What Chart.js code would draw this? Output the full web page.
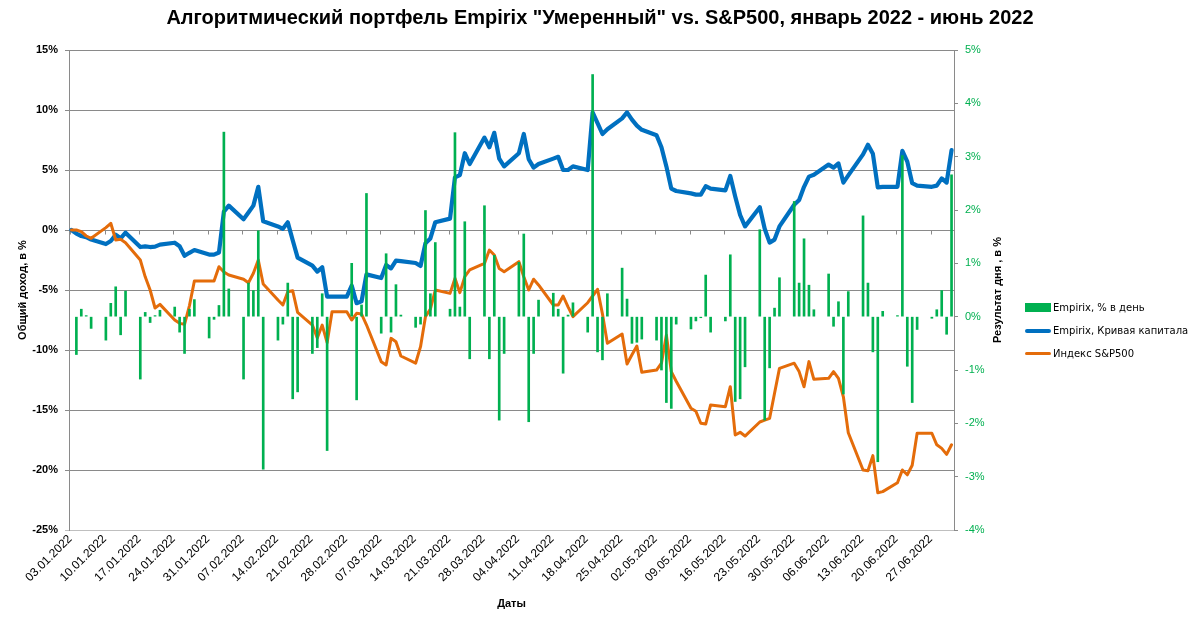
<!DOCTYPE html>
<html>
<head>
<meta charset="utf-8">
<script src="https://cdn.jsdelivr.net/npm/chart.js@4.4.1/dist/chart.umd.min.js"></script>
<style>
  html, body { margin: 0; padding: 0; background: #fff; }
  #wrap { position: relative; width: 1200px; height: 623px; }
  #legend { position: absolute; left: 1025px; top: 296px; font: 10px "DejaVu Sans", Verdana, sans-serif; color: #000; }
  #legend .row { height: 23px; display: flex; align-items: center; white-space: nowrap; }
  #legend .sw { display: inline-block; width: 26px; margin-right: 2px; }
</style>
</head>
<body>
<div id="wrap">
  <canvas id="c" width="1200" height="623" style="width:1200px;height:623px"></canvas>
  <div id="legend"></div>
</div>
<script>
// ----- data -----
const dates = [
  "03.01","04.01","05.01","06.01","07.01",
  "10.01","11.01","12.01","13.01","14.01",
  "17.01","18.01","19.01","20.01","21.01",
  "24.01","25.01","26.01","27.01","28.01",
  "31.01","01.02","02.02","03.02","04.02",
  "07.02","08.02","09.02","10.02","11.02",
  "14.02","15.02","16.02","17.02","18.02",
  "21.02","22.02","23.02","24.02","25.02",
  "28.02","01.03","02.03","03.03","04.03",
  "07.03","08.03","09.03","10.03","11.03",
  "14.03","15.03","16.03","17.03","18.03",
  "21.03","22.03","23.03","24.03","25.03",
  "28.03","29.03","30.03","31.03","01.04",
  "04.04","05.04","06.04","07.04","08.04",
  "11.04","12.04","13.04","14.04","15.04",
  "18.04","19.04","20.04","21.04","22.04",
  "25.04","26.04","27.04","28.04","29.04",
  "02.05","03.05","04.05","05.05","06.05",
  "09.05","10.05","11.05","12.05","13.05",
  "16.05","17.05","18.05","19.05","20.05",
  "23.05","24.05","25.05","26.05","27.05",
  "30.05","31.05","01.06","02.06","03.06",
  "06.06","07.06","08.06","09.06","10.06",
  "13.06","14.06","15.06","16.06","17.06",
  "20.06","21.06","22.06","23.06","24.06",
  "27.06","28.06","29.06","30.06","01.07"
];

// Empirix, % в день (right axis)
const dailyPct = [
  null, -0.71, 0.14, 0.02, -0.22,
  -0.44, 0.25, 0.56, -0.34, 0.48,
  -1.17, 0.08, -0.11, 0.02, 0.12,
  0.18, -0.29, -0.69, 0.14, 0.32,
  -0.40, -0.05, 0.21, 3.46, 0.52,
  -1.17, 0.63, 0.49, 1.61, -2.86,
  -0.44, -0.14, 0.63, -1.54, -1.41,
  -0.69, -0.58, 0.43, -2.51, null,
  null, 1.00, -1.56, 0.22, 2.31,
  -0.31, 1.18, -0.29, 0.60, 0.03,
  -0.20, -0.14, 1.99, 0.43, 1.39,
  0.14, 3.45, 0.18, 1.78, -0.79,
  2.08, -0.79, 1.15, -1.94, -0.69,
  1.02, 1.55, -1.97, -0.69, 0.31,
  0.44, 0.14, -1.06, 0.03, 0.26,
  -0.29, 4.54, -0.66, -0.81, 0.43,
  0.91, 0.33, -0.50, -0.48, -0.42,
  -0.44, -1.00, -1.61, -1.72, -0.14,
  -0.23, -0.08, -0.02, 0.78, -0.29,
  -0.08, 1.16, -1.59, -1.54, -0.94,
  1.63, -1.94, -0.96, 0.16, 0.73,
  2.16, 0.63, 1.46, 0.59, 0.13,
  0.80, -0.18, 0.28, -1.45, 0.47,
  1.89, 0.63, -0.66, -2.72, 0.10,
  0.02, 3.02, -0.93, -1.61, -0.24,
  -0.03, 0.13, 0.49, -0.33, 2.66
];

// Empirix, Кривая капитала (left axis, %)
const equity = [
  0, -0.3, -0.5, -0.6, -0.8,
  -1.17, -0.92, -0.4, -0.69, -0.22,
  -1.42, -1.36, -1.42, -1.39, -1.22,
  -1.06, -1.35, -2.15, -1.9, -1.67,
  -2.05, -2.05, -1.88, 1.53, 2.03,
  0.89, 1.45, 2.03, 3.6, 0.72,
  0.3, 0.1, 0.64, -0.85, -2.3,
  -2.97, -3.47, -3.1, -5.56, -5.56,
  -5.56, -4.64, -6.1, -5.95, -3.7,
  -4.0, -2.92, -3.2, -2.55, -2.6,
  -2.75, -3.0, -1.1, -0.7, 0.65,
  0.95, 4.39, 4.58, 6.4, 5.5,
  7.7, 6.9, 8.1, 5.95, 5.3,
  6.4, 8.0, 5.9, 5.2, 5.5,
  5.95, 6.1, 5.0, 5.0, 5.3,
  5.0, 9.8, 8.9, 8.0, 8.4,
  9.3, 9.8, 9.2, 8.7, 8.35,
  7.9, 6.9, 5.3, 3.45, 3.25,
  3.05, 2.95, 2.95, 3.65, 3.45,
  3.3, 4.5, 2.8, 1.25, 0.3,
  1.9, 0.1, -1.05, -0.8, 0.3,
  2.1, 2.5, 3.6, 4.45, 4.6,
  5.45, 5.2, 5.55, 3.95, 4.55,
  6.3, 7.1, 6.35, 3.55, 3.6,
  3.6, 6.6, 5.7, 3.9, 3.7,
  3.6, 3.7, 4.3, 3.95, 6.65
];

// Индекс S&P500 (left axis, %)
const spx = [
  0, 0, -0.14, -0.5, -0.69,
  0.2, 0.56, -0.83, -0.78, -1.06,
  -2.5, -3.9, -5.0, -6.5, -6.2,
  -7.5, -7.78, -7.86, -6.3, -4.25,
  -4.25, -4.25, -3.06, -3.5, -3.75,
  -4.1, -4.4, -3.6, -2.5, -4.5,
  -5.83, -6.25, -5.14, -5.06, -6.86,
  -7.92, -9.0, -7.92, -9.39, -6.81,
  -6.81, -7.5, -6.94, -7.0, -7.9,
  -10.97, -11.25, -9.03, -9.31, -10.5,
  -11.1, -9.72, -7.22, -6.6, -5.0,
  -5.28, -4.03, -5.22, -3.89, -3.33,
  -2.78, -1.67, -2.08, -3.2, -3.47,
  -2.64, -3.9, -5.0, -4.1, -4.58,
  -6.25, -6.25, -5.5, -6.4, -7.22,
  -6.06, -5.5, -4.94, -7.0, -9.44,
  -8.67, -11.17, -10.4, -9.67, -11.85,
  -11.67, -11.1, -8.75, -11.8, -12.6,
  -14.86, -15.1, -16.1, -16.17, -14.58,
  -14.72, -13.06, -17.08, -16.86, -17.17,
  -16.0, -15.85, -15.69, -13.6, -11.53,
  -11.1, -11.8, -13.06, -10.97, -12.44,
  -12.36, -11.8, -12.36, -13.9, -16.9,
  -20.0, -20.06, -18.8, -21.9, -21.8,
  -21.06, -20.0, -20.4, -19.6, -16.94,
  -16.94, -17.9, -18.2, -18.7, -17.9
];

const tickLabels = [
  "03.01.2022","10.01.2022","17.01.2022","24.01.2022","31.01.2022","07.02.2022",
  "14.02.2022","21.02.2022","28.02.2022","07.03.2022","14.03.2022","21.03.2022",
  "28.03.2022","04.04.2022","11.04.2022","18.04.2022","25.04.2022","02.05.2022",
  "09.05.2022","16.05.2022","23.05.2022","30.05.2022","06.06.2022","13.06.2022",
  "20.06.2022","27.06.2022"
];

const C_BAR = "#00B050", C_EQ = "#0070C0", C_SPX = "#E46C0A", C_GRID = "#8a8a8a";
const FONT = "'Liberation Sans', Arial, sans-serif";

// ----- helpers -----
const day0 = Date.UTC(2022, 0, 3);
const dayIdx = (s) => { const [d, m] = s.split(".").map(Number); return (Date.UTC(2022, m - 1, d) - day0) / 86400000; };
const xs = dates.map(dayIdx);
const pts = (arr) => arr.map((v, i) => ({ x: xs[i], y: v })).filter(p => p.y != null);

// tick marks on the 0% line + right axis title
const extras = {
  id: "extras",
  beforeDatasetsDraw(chart) {
    const { ctx, scales: { x, y } } = chart;
    const y0 = Math.round(y.getPixelForValue(0)) + 0.5;
    ctx.save();
    ctx.strokeStyle = C_GRID; ctx.lineWidth = 1;
    x.ticks.forEach(t => {
      const px = Math.round(x.getPixelForValue(t.value)) + 0.5;
      ctx.beginPath(); ctx.moveTo(px, y0); ctx.lineTo(px, y0 + 4); ctx.stroke();
    });
    ctx.restore();
  },
  afterDraw(chart) {
    const { ctx } = chart;
    ctx.save();
    ctx.translate(998, 290);
    ctx.rotate(-Math.PI / 2);
    ctx.font = "bold 11px " + FONT;
    ctx.fillStyle = "#000"; ctx.textAlign = "center"; ctx.textBaseline = "middle";
    ctx.fillText("Результат дня , в %", 0, 0);
    ctx.restore();
  }
};

new Chart(document.getElementById("c"), {
  type: "line",
  data: {
    datasets: [
      { type: "bar", label: "Empirix, % в день", data: pts(dailyPct), yAxisID: "y2",
        backgroundColor: C_BAR, borderWidth: 0, barThickness: 2, order: 0 },
      { label: "Empirix, Кривая капитала", data: pts(equity), yAxisID: "y",
        borderColor: C_EQ, backgroundColor: C_EQ, borderWidth: 4.2, pointRadius: 0, tension: 0,
        borderJoinStyle: "round", borderCapStyle: "round", order: 2 },
      { label: "Индекс S&P500", data: pts(spx), yAxisID: "y",
        borderColor: C_SPX, backgroundColor: C_SPX, borderWidth: 3, pointRadius: 0, tension: 0,
        borderJoinStyle: "round", borderCapStyle: "round", order: 1 }
    ]
  },
  options: {
    responsive: false, animation: false, devicePixelRatio: 1,
    layout: { padding: { left: 0, right: 0, top: 6, bottom: 0 } },
    plugins: {
      legend: { display: false }, tooltip: { enabled: false },
      title: { display: true, text: 'Алгоритмический портфель Empirix "Умеренный" vs. S&P500, январь 2022 - июнь 2022',
        color: "#000", font: { family: FONT, size: 20, weight: "bold" }, padding: { top: 0, bottom: 20 } }
    },
    scales: {
      x: {
        type: "linear", min: -0.5, max: 179.5, offset: false,
        afterBuildTicks: (s) => { s.ticks = tickLabels.map((_, k) => ({ value: k * 7 - 0.25 })); },
        afterFit: (s) => { s.height = 93; },
        ticks: { autoSkip: false, minRotation: 45, maxRotation: 45, padding: 2, color: "#000",
          font: { family: FONT, size: 12 }, callback: (v, i) => tickLabels[i] },
        grid: { display: false, drawTicks: false, offset: false },
        border: { display: false },
        title: { display: true, text: "Даты", color: "#000", font: { family: FONT, size: 11, weight: "bold" },
          padding: { top: 0, bottom: 12 } }
      },
      y: {
        position: "left", min: -25, max: 15,
        afterFit: (s) => { s.width = 69; },
        ticks: { stepSize: 5, padding: 7, color: "#000", font: { family: FONT, size: 11, weight: "bold" },
          callback: (v) => v + "%" },
        grid: { color: (c) => c.tick && c.tick.value === -25 ? "#bfbfbf" : C_GRID, lineWidth: 1, tickLength: 4 },
        border: { display: true, color: C_GRID },
        title: { display: true, text: "Общий доход, в %", color: "#000",
          font: { family: FONT, size: 11, weight: "bold" }, padding: { top: 16, bottom: 0 } }
      },
      y2: {
        position: "right", min: -4, max: 5,
        afterFit: (s) => { s.width = 246; },
        ticks: { stepSize: 1, padding: 7, color: C_BAR, font: { family: FONT, size: 11 },
          callback: (v) => v + "%" },
        grid: { drawOnChartArea: false, color: C_GRID, tickLength: 4 },
        border: { display: true, color: C_GRID }
      }
    }
  },
  plugins: [extras]
});

// legend
const legendItems = [
  { text: "Empirix, % в день", sw: `<span class="sw" style="height:9px;background:${C_BAR}"></span>` },
  { text: "Empirix, Кривая капитала", sw: `<span class="sw" style="height:4px;border-radius:2px;background:${C_EQ}"></span>` },
  { text: "Индекс S&amp;P500", sw: `<span class="sw" style="height:3px;border-radius:2px;background:${C_SPX}"></span>` }
];
document.getElementById("legend").innerHTML =
  legendItems.map(it => `<div class="row">${it.sw}<span>${it.text}</span></div>`).join("");
</script>
</body>
</html>
